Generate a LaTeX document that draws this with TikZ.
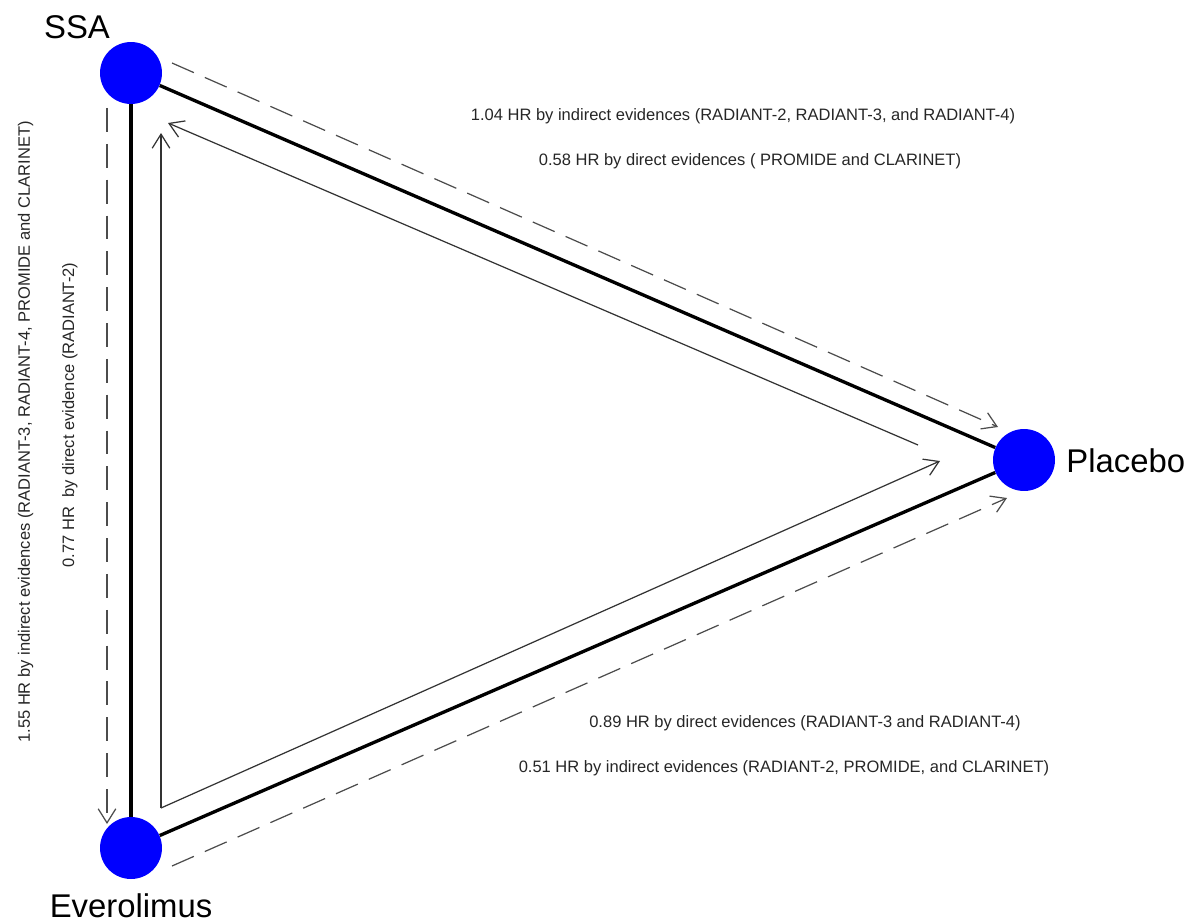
\documentclass[tikz,border=0pt]{standalone}
\usepackage{fontspec}
\setmainfont{Liberation Sans}
\usetikzlibrary{arrows.meta}
\begin{document}
\begin{tikzpicture}[x=0.02cm,y=-0.02cm,
  trt/.style={circle,fill=blue,draw=none,minimum size=1.24cm,inner sep=0pt},
  big/.style={font=\fontsize{18.7}{22}\selectfont,inner sep=0pt},
  lbl/.style={font=\fontsize{9.4}{11}\selectfont,inner sep=0pt,anchor=base,text=black!85},
  thick edge/.style={line width=1.9pt,black},
  thin arrow/.style={line width=0.7pt,black!80,-{Straight Barb[length=8pt,width=10pt]}},
  dash arrow/.style={line width=0.7pt,black!70,dash pattern=on 13.6pt off 6.8pt,-{Straight Barb[length=8pt,width=10pt]}}]
\useasboundingbox (0,0) rectangle (1186,922);
% nodes
\node[trt] (ssa) at (131,73) {};
\node[trt] (evr) at (131,848) {};
\node[trt] (plc) at (1024,460) {};
\node[big,anchor=base] (ssalbl) at (77,39) {SSA};
\node[big,anchor=base] (evrlbl) at (131,917) {Everolimus};
\node[big,anchor=base west] (plclbl) at (1066,472) {Placebo};
% thick edges
\draw[thick edge] (ssa) -- (plc);
\draw[thick edge] (evr) -- (plc);
\draw[thick edge] (ssa) -- (evr);
% arrow end points
\coordinate (d1s) at (172,63);
\coordinate (d1e) at (998,427);
\coordinate (d2s) at (172,866);
\coordinate (d2e) at (1007,498);
\coordinate (d3s) at (107,108);
\coordinate (d3e) at (107,824);
\coordinate (t1s) at (918,445);
\coordinate (t1e) at (168,123);
\coordinate (t0) at (161,808);
\coordinate (t2e) at (940,461);
\coordinate (t3e) at (161,133);
% dashed arrows
\draw[dash arrow] (d1s) -- (d1e);
\draw[dash arrow] (d2s) -- (d2e);
\draw[dash arrow] (d3s) -- (d3e);
% thin arrows
\draw[thin arrow] (t1s) -- (t1e);
\draw[thin arrow] (t0) -- (t2e);
\draw[thin arrow] (t0) -- (t3e);
% labels
\node[lbl] (l1) at (743,121) {1.04 HR by indirect evidences (RADIANT-2, RADIANT-3, and RADIANT-4)};
\node[lbl] (l2) at (750,166) {0.58 HR by direct evidences ( PROMIDE and CLARINET)};
\node[lbl] (l3) at (805,727) {0.89 HR by direct evidences (RADIANT-3 and RADIANT-4)};
\node[lbl] (l4) at (784,772) {0.51 HR by indirect evidences (RADIANT-2, PROMIDE, and CLARINET)};
\node[lbl,rotate=90] (l5) at (30,432) {1.55 HR by indirect evidences (RADIANT-3, RADIANT-4, PROMIDE and CLARINET)};
\node[lbl,rotate=90] (l6) at (74,415) {0.77 HR\ \ by direct evidence (RADIANT-2)};
\end{tikzpicture}
\end{document}
